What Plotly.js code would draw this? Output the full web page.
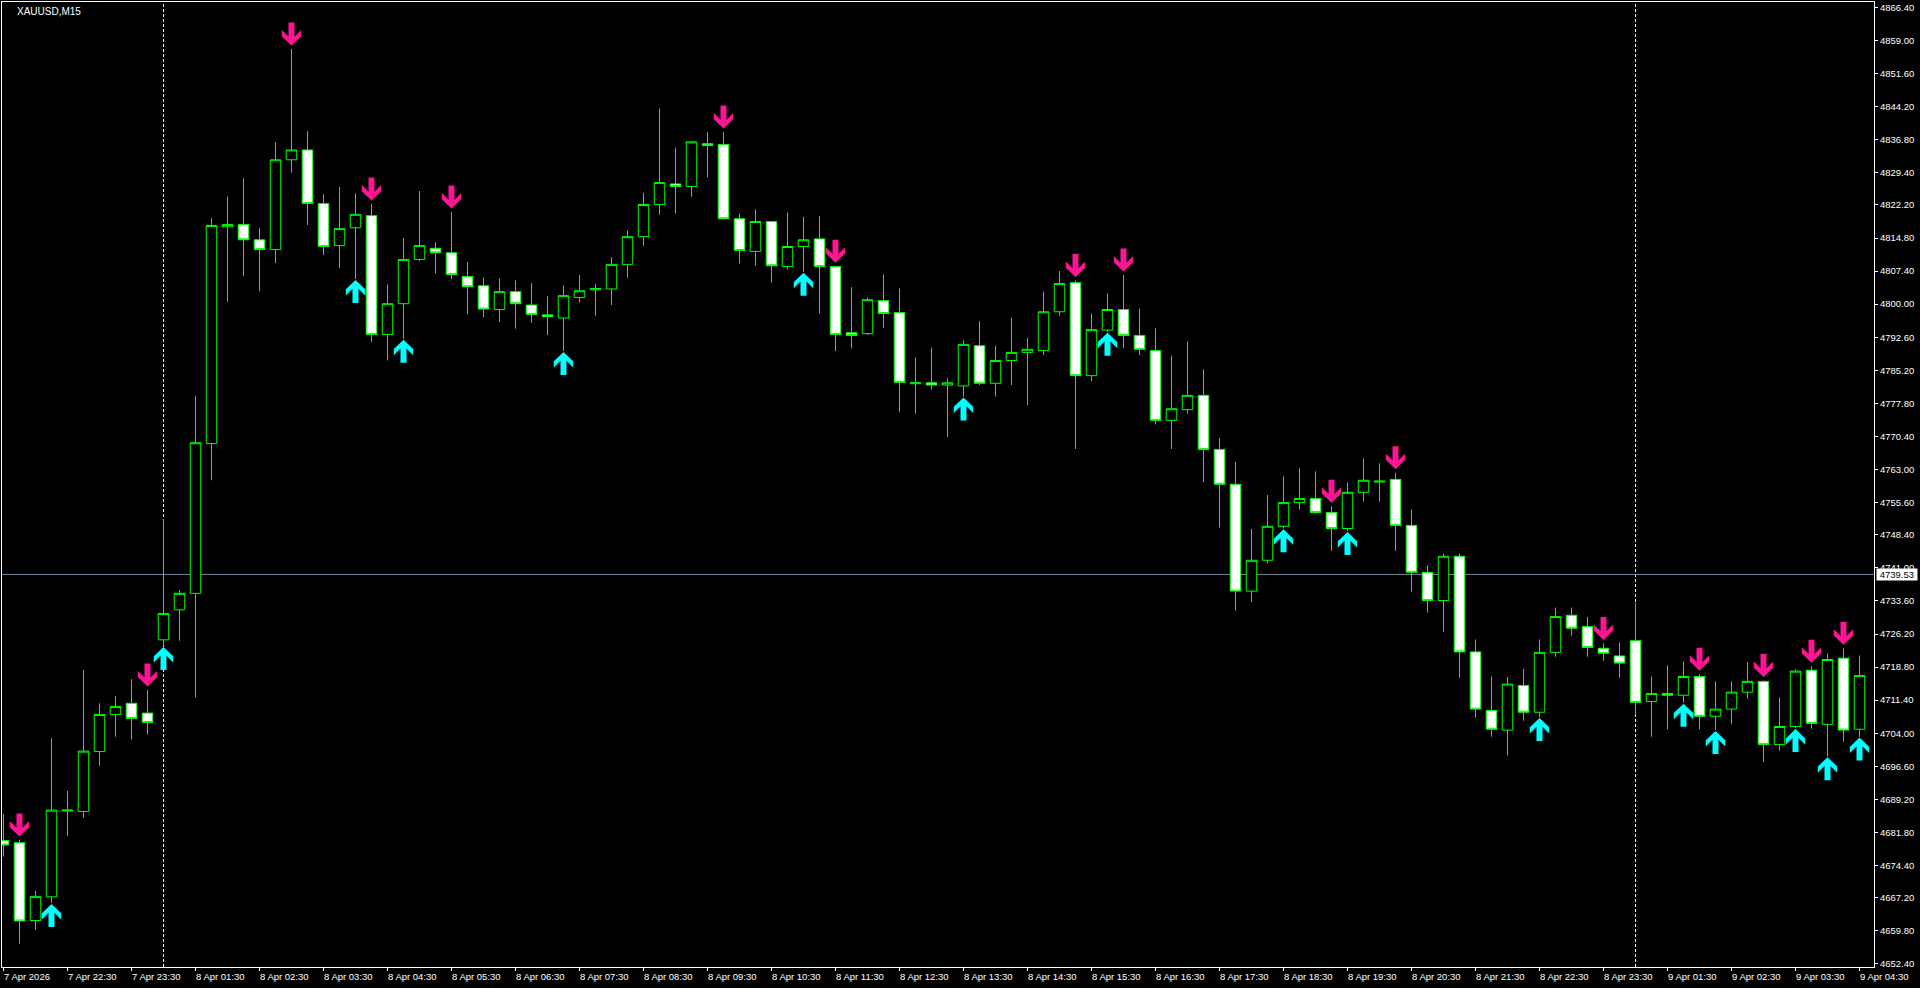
<!DOCTYPE html>
<html><head><meta charset="utf-8">
<script src="https://cdn.plot.ly/plotly-3.0.1.min.js"></script>
<style>html,body{margin:0;padding:0;background:#000;overflow:hidden}#chart{width:1920px;height:988px}</style>
</head><body><div id="chart"></div><script>
const symbolTitle = "XAUUSD,M15";

const openP = [4680.0,4679.5,4662.1,4667.4,4686.6,4686.5,4699.9,4708.2,4710.7,4708.5,
4724.9,4731.6,4735.3,4768.8,4817.3,4817.8,4814.4,4812.2,4832.3,4834.5,
4822.5,4813.1,4817.1,4819.8,4793.2,4800.1,4810.0,4812.5,4811.5,4806.2,
4804.1,4798.8,4802.8,4799.8,4797.6,4796.9,4801.5,4803.2,4803.4,4808.9,
4815.1,4822.3,4826.9,4826.3,4835.9,4835.7,4819.1,4811.8,4818.5,4808.4,
4812.9,4814.6,4808.4,4793.6,4793.4,4800.8,4798.1,4782.2,4782.4,4781.9,
4781.7,4790.7,4782.3,4787.4,4789.2,4789.6,4798.3,4804.8,4784.0,4794.2,
4798.8,4793.0,4789.6,4774.0,4776.4,4779.6,4767.5,4759.7,4735.8,4742.7,
4750.3,4755.6,4756.5,4753.4,4749.8,4757.9,4760.2,4760.8,4750.5,4740.0,
4733.7,4743.6,4722.2,4709.1,4704.7,4714.7,4708.7,4722.1,4730.4,4727.9,
4723.0,4721.3,4724.7,4711.1,4712.9,4712.5,4716.7,4707.8,4709.4,4713.2,
4715.6,4701.5,4705.5,4718.1,4706.0,4720.8,4704.9];
const highP = [4685.9,4680.1,4668.7,4702.9,4691.1,4718.1,4710.7,4712.3,4716.1,4713.7,
4751.9,4736.0,4779.5,4819.3,4824.1,4828.2,4817.0,4836.2,4857.1,4838.7,
4824.6,4826.2,4824.8,4822.4,4804.4,4814.8,4825.3,4813.9,4820.6,4809.4,
4806.0,4805.7,4805.3,4804.7,4801.8,4804.2,4806.5,4804.5,4810.5,4816.5,
4824.9,4843.8,4835.0,4836.5,4838.5,4838.5,4820.3,4821.2,4818.6,4820.5,
4819.5,4819.7,4808.5,4803.8,4801.5,4806.6,4803.5,4788.1,4790.3,4783.4,
4791.9,4796.2,4790.7,4797.0,4792.5,4802.8,4807.4,4805.3,4797.9,4802.4,
4806.5,4799.0,4794.6,4788.5,4791.7,4785.4,4770.0,4764.7,4749.7,4757.3,
4761.5,4763.3,4762.6,4754.8,4760.1,4765.5,4764.4,4762.3,4754.1,4741.6,
4744.2,4744.2,4725.0,4716.7,4716.6,4718.4,4725.0,4732.1,4732.1,4730.0,
4724.1,4724.3,4733.2,4716.7,4719.2,4720.1,4717.2,4715.6,4715.6,4719.9,
4715.8,4712.0,4718.3,4719.0,4721.9,4723.0,4721.4];
const lowP = [4676.4,4656.9,4660.0,4666.0,4681.0,4685.1,4696.7,4703.2,4702.6,4703.7,
4723.5,4724.7,4712.0,4760.6,4800.5,4806.3,4802.9,4809.2,4829.4,4817.7,
4811.0,4808.1,4805.6,4791.5,4787.4,4792.2,4809.6,4806.9,4805.6,4797.7,
4797.1,4796.0,4794.5,4795.8,4793.1,4789.5,4800.3,4797.4,4799.8,4805.9,
4813.0,4820.0,4820.3,4824.0,4828.4,4819.0,4809.1,4808.6,4804.8,4807.7,
4807.2,4797.9,4789.5,4790.1,4793.1,4794.7,4775.9,4775.5,4780.9,4770.3,
4779.3,4781.9,4779.3,4781.9,4777.4,4788.6,4797.4,4767.6,4782.8,4793.8,
4790.2,4788.6,4773.1,4767.6,4775.5,4760.2,4750.0,4731.4,4733.4,4742.0,
4749.8,4754.1,4753.2,4744.8,4749.2,4755.8,4755.8,4744.8,4735.7,4731.0,
4726.7,4716.4,4707.5,4703.2,4699.0,4706.8,4707.6,4721.1,4725.8,4721.1,
4720.2,4716.4,4708.1,4703.2,4704.9,4710.8,4704.9,4704.7,4706.1,4711.7,
4697.6,4700.1,4705.1,4705.0,4698.8,4702.1,4703.2];
const closeP = [4679.0,4662.0,4667.5,4686.8,4686.8,4700.0,4708.2,4710.0,4707.3,4706.4,
4730.8,4735.3,4769.0,4817.6,4817.8,4814.4,4812.2,4832.3,4834.5,4822.5,
4812.9,4816.9,4820.1,4793.2,4800.1,4810.0,4813.1,4811.5,4806.6,4803.9,
4798.9,4802.8,4800.1,4797.7,4797.2,4801.9,4803.0,4803.5,4808.9,4815.1,
4822.3,4827.2,4826.3,4836.3,4835.5,4819.1,4812.0,4818.5,4808.6,4812.9,
4814.4,4808.4,4793.2,4793.0,4801.0,4797.9,4782.5,4782.4,4781.9,4782.4,
4791.0,4782.3,4787.4,4789.2,4789.9,4798.3,4804.6,4784.0,4794.3,4798.8,
4793.0,4789.9,4774.0,4776.6,4779.6,4767.5,4759.7,4735.8,4742.7,4750.3,
4755.6,4756.5,4753.4,4749.8,4757.9,4760.6,4760.4,4750.5,4740.0,4733.7,
4743.6,4722.2,4709.4,4704.9,4715.0,4708.7,4722.1,4730.1,4727.5,4723.2,
4721.9,4719.7,4710.9,4712.9,4712.5,4716.7,4707.8,4709.4,4713.2,4715.6,
4701.5,4705.5,4717.9,4706.2,4720.5,4704.7,4716.9];

const timeLabels = ["7 Apr 2026","7 Apr 22:30","7 Apr 23:30","8 Apr 01:30","8 Apr 02:30","8 Apr 03:30",
"8 Apr 04:30","8 Apr 05:30","8 Apr 06:30","8 Apr 07:30","8 Apr 08:30","8 Apr 09:30","8 Apr 10:30",
"8 Apr 11:30","8 Apr 12:30","8 Apr 13:30","8 Apr 14:30","8 Apr 15:30","8 Apr 16:30","8 Apr 17:30",
"8 Apr 18:30","8 Apr 19:30","8 Apr 20:30","8 Apr 21:30","8 Apr 22:30","8 Apr 23:30","9 Apr 01:30",
"9 Apr 02:30","9 Apr 03:30","9 Apr 04:30"];
const timeLabelBars = [0,4,8,12,16,20,24,28,32,36,40,44,48,52,56,60,64,68,72,76,80,84,88,92,96,100,104,108,112,116];

const priceLabels = ["4866.40","4859.00","4851.60","4844.20","4836.80","4829.40","4822.20","4814.80",
"4807.40","4800.00","4792.60","4785.20","4777.80","4770.40","4763.00","4755.60","4748.40","4741.00",
"4733.60","4726.20","4718.80","4711.40","4704.00","4696.60","4689.20","4681.80","4674.40","4667.20",
"4659.80","4652.40"];

const sellSignalBars = [1,9,18,23,28,45,52,67,70,83,87,100,106,110,113,115];
const buySignalBars = [3,10,22,25,35,50,60,69,80,84,96,105,107,112,114,116];
const daySeparatorBars = [10,102];
const bidPrice = 4739.53;

const barIndex = openP.map((_, i) => i);

const GREEN = '#00FF00', PINK = '#FF1493', AQUA = '#00FFFF';
const FONT = 'Liberation Sans, Arial, sans-serif';

const candles = {
  type: 'candlestick', x: barIndex, open: openP, high: highP, low: lowP, close: closeP,
  increasing: {line: {color: GREEN, width: 1}, fillcolor: '#000000'},
  decreasing: {line: {color: GREEN, width: 1}, fillcolor: '#FFFFFF'},
  whiskerwidth: 0, hoverinfo: 'skip', showlegend: false
};

// arrow outline in pixels: tip at (0,0), body extends upward (positive y)
const arrowPts = [[0,0],[9.7,9.3],[9.7,15.5],[3,8.8],[3,23],[-3,23],[-3,8.8],[-9.7,15.5],[-9.7,9.3]];
function arrowPath(sign, gap) {
  return arrowPts.map((p, k) => (k === 0 ? 'M ' : 'L ') + p[0] + ' ' + (sign * (p[1] + gap))).join(' ') + ' Z';
}
const downPath = arrowPath(1, 3.5);
const upPath = arrowPath(-1, 0.8);

const shapes = [];
daySeparatorBars.forEach(b => shapes.push({
  type: 'line', xref: 'x', yref: 'paper', x0: b, x1: b, y0: 0, y1: 1,
  line: {color: '#FFFFFF', width: 1, dash: '3px,2px'}, layer: 'below'
}));
shapes.push({type: 'line', xref: 'paper', yref: 'y', x0: 0, x1: 1, y0: bidPrice, y1: bidPrice,
  line: {color: '#778899', width: 1}, layer: 'below'});
sellSignalBars.forEach(b => shapes.push({
  type: 'path', xref: 'x', yref: 'y', xsizemode: 'pixel', ysizemode: 'pixel',
  xanchor: b, yanchor: highP[b], path: downPath, fillcolor: PINK, line: {width: 0}
}));
buySignalBars.forEach(b => shapes.push({
  type: 'path', xref: 'x', yref: 'y', xsizemode: 'pixel', ysizemode: 'pixel',
  xanchor: b, yanchor: lowP[b], path: upPath, fillcolor: AQUA, line: {width: 0}
}));

const annotations = [];
annotations.push({xref: 'paper', yref: 'paper', x: 0, y: 1, xanchor: 'left', yanchor: 'top',
  xshift: 13, yshift: -2, text: symbolTitle, showarrow: false,
  font: {family: FONT, size: 10, color: '#FFFFFF'}});
timeLabels.forEach((t, k) => annotations.push({
  xref: 'x', yref: 'paper', x: timeLabelBars[k], y: 0, xanchor: 'left', yanchor: 'top',
  xshift: -2, yshift: -2, text: t, showarrow: false,
  font: {family: FONT, size: 9.5, color: '#FFFFFF'}
}));
annotations.push({xref: 'paper', yref: 'y', x: 1, y: bidPrice, xanchor: 'left', yanchor: 'middle',
  xshift: 2, text: '\u00a0' + bidPrice.toFixed(2) + '\u00a0', showarrow: false, bgcolor: '#FFFFFF',
  borderpad: 0, font: {family: FONT, size: 9.5, color: '#000000'}});

const layout = {
  width: 1920, height: 988,
  paper_bgcolor: '#000000', plot_bgcolor: '#000000',
  margin: {l: 2, r: 46, t: 2, b: 21, pad: 0},
  showlegend: false,
  boxgap: 0.34, boxgroupgap: 0,
  xaxis: {range: [-0.09375, 116.90625], showgrid: false, zeroline: false, showline: true, mirror: true,
    linecolor: '#FFFFFF', linewidth: 1, ticks: 'outside', ticklen: 3, tickcolor: '#FFFFFF',
    tickvals: timeLabelBars, showticklabels: false, rangeslider: {visible: false}, fixedrange: true},
  yaxis: {side: 'right', range: [4651.7, 4867.6], showgrid: false, zeroline: false, showline: true,
    mirror: true, linecolor: '#FFFFFF', linewidth: 1, ticks: 'outside', ticklen: 3, tickcolor: '#FFFFFF',
    tickvals: priceLabels.map(Number), ticktext: priceLabels,
    tickfont: {family: FONT, size: 9.5, color: '#FFFFFF'}, fixedrange: true},
  shapes: shapes, annotations: annotations
};

Plotly.newPlot('chart', [candles], layout, {displayModeBar: false, staticPlot: true});
</script></body></html>
